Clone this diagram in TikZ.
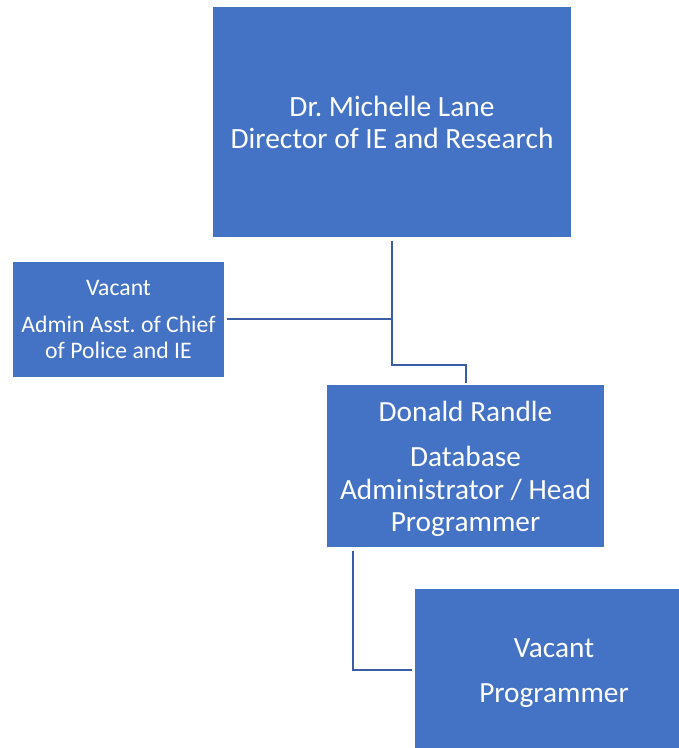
\documentclass[tikz,border=0pt]{standalone}
\usepackage{fontspec}
\setmainfont{Carlito}
\frenchspacing
\definecolor{boxblue}{HTML}{4472C4}
\definecolor{lineblue}{HTML}{3A5DA6}
\begin{document}
\begin{tikzpicture}[x=1pt,y=-1pt,
  box/.style={fill=boxblue, text=white, align=center, inner sep=0pt},
  txt/.style={text=white, align=center, inner sep=0pt},
  conn/.style={draw=lineblue, line width=2pt}]
\useasboundingbox (0,0) rectangle (679,748);
\node[box, minimum width=358pt, minimum height=230pt, font=\fontsize{29.4}{32}\selectfont] (top) at (392,122)
  {Dr. Michelle Lane\\Director of IE and Research};
\node[box, minimum width=211pt, minimum height=115pt, font=\fontsize{23.7}{26}\selectfont] (left) at (118.5,319.5)
  {Vacant\\[11pt]Admin Asst. of Chief\\of Police and IE};
\node[box, minimum width=277pt, minimum height=162pt] (mid) at (465.5,466) {};
\node[txt, font=\fontsize{29.3}{32.5}\selectfont] (midtxt) at ([yshift=-3pt]mid.center)
  {Donald Randle\\[12.5pt]Database\\Administrator / Head\\Programmer};
\node[box, minimum width=278pt, minimum height=161pt] (bot) at (554,669.5) {};
\node[txt, font=\fontsize{29.3}{45}\selectfont] (bottxt) at ([yshift=-3.5pt]bot.center)
  {Vacant\\Programmer};
\coordinate (ja) at (392,319);
\coordinate (jb) at (392,365);
\coordinate (jc) at (466,365);
\coordinate (jd) at (353,670);
\draw[conn, shorten <=4pt] (top.south -| ja) -- (jb) -- (jc) -- ([yshift=2pt]mid.north -| jc);
\draw[conn, shorten >=3pt] (ja) -- (left.east |- ja);
\draw[conn, shorten <=4pt, shorten >=3pt] (mid.south -| jd) -- (jd) -- (bot.west |- jd);
\end{tikzpicture}
\end{document}
